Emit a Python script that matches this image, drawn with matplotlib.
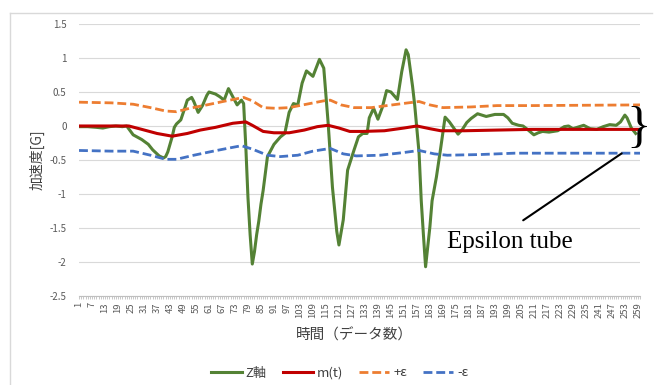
import matplotlib
matplotlib.use('Agg')
import matplotlib.pyplot as plt
from matplotlib.lines import Line2D

plt.rcParams['font.family'] = ['Noto Sans CJK JP', 'DejaVu Sans']
plt.rcParams['axes.unicode_minus'] = False

# Z軸 (sample index, acceleration)
z_idx = [1, 5, 9, 12, 15, 18, 21, 23, 26, 30, 33, 35, 38, 40, 41, 42, 44, 45, 46, 48,
         50, 51, 53, 54, 56, 58, 60, 61, 64, 66, 68, 70, 72, 74, 76, 77, 78, 79, 80, 81,
         82, 83, 84, 85, 86, 88, 91, 94, 96, 98, 100, 102, 104, 106, 109, 112, 114, 116, 118, 120,
         121, 123, 125, 128, 130, 132, 134, 135, 137, 139, 141, 143, 145, 148, 150, 152, 153, 155, 156, 158,
         159, 160, 161, 163, 164, 166, 168, 170, 172, 174, 176, 178, 180, 182, 185, 189, 193, 197, 199, 201,
         204, 206, 208, 211, 213, 215, 218, 222, 225, 227, 229, 232, 234, 237, 240, 243, 246, 249, 251, 253,
         254, 256, 258]
z_val = [-0.01, -0.01, -0.02, -0.03, -0.01, 0.0, -0.01, 0.0, -0.13, -0.2, -0.27, -0.35, -0.44, -0.47, -0.45, -0.38, -0.16, -0.02, 0.03, 0.09,
         0.28, 0.38, 0.42, 0.36, 0.2, 0.3, 0.45, 0.5, 0.47, 0.43, 0.38, 0.55, 0.43, 0.31, 0.38, 0.33, -0.3, -1.05, -1.6, -2.03,
         -1.85, -1.6, -1.4, -1.15, -0.95, -0.45, -0.27, -0.16, -0.11, 0.2, 0.33, 0.31, 0.63, 0.81, 0.73, 0.98, 0.85, 0.05, -0.9, -1.55,
         -1.75, -1.38, -0.65, -0.35, -0.16, -0.11, -0.11, 0.12, 0.26, 0.1, 0.27, 0.52, 0.5, 0.39, 0.8, 1.12, 1.05, 0.58, 0.3, -0.4,
         -1.1, -1.6, -2.07, -1.48, -1.1, -0.75, -0.32, 0.13, 0.06, -0.03, -0.12, -0.05, 0.05, 0.11, 0.18, 0.14, 0.17, 0.17, 0.12, 0.04,
         0.01, 0.0, -0.05, -0.13, -0.1, -0.08, -0.09, -0.07, -0.01, 0.0, -0.04, -0.01, 0.01, -0.04, -0.05, -0.01, 0.02, 0.01, 0.06, 0.16,
         0.12, -0.03, -0.11]

# m(t)
m_idx = [1, 24, 30, 37, 44, 51, 57, 64, 72, 78, 81, 86, 91, 98, 105, 111, 116, 121, 126, 132,
         142, 151, 157, 163, 168, 179, 194, 210, 240, 260]
m_val = [0.0, 0.0, -0.05, -0.11, -0.15, -0.11, -0.06, -0.02, 0.04, 0.06, 0.01, -0.08, -0.1, -0.1, -0.06, -0.01, 0.01, -0.03, -0.08, -0.08,
         -0.07, -0.03, 0.0, -0.04, -0.07, -0.07, -0.06, -0.05, -0.05, -0.05]

# +ε
up_idx = [1, 16, 26, 34, 41, 46, 52, 60, 69, 77, 81, 86, 92, 98, 106, 114, 117, 122, 128, 136,
          148, 158, 163, 169, 182, 194, 210, 260]
up_val = [0.35, 0.34, 0.32, 0.27, 0.22, 0.21, 0.26, 0.31, 0.37, 0.42, 0.37, 0.27, 0.26, 0.27, 0.32, 0.37, 0.38, 0.31, 0.27, 0.27,
          0.32, 0.36, 0.31, 0.27, 0.28, 0.3, 0.3, 0.31]

# -ε
lo_idx = [1, 16, 26, 34, 41, 46, 54, 63, 71, 76, 81, 88, 94, 102, 109, 117, 123, 129, 140, 151,
          158, 165, 171, 186, 202, 260]
lo_val = [-0.36, -0.37, -0.37, -0.43, -0.49, -0.49, -0.43, -0.37, -0.32, -0.29, -0.34, -0.43, -0.45, -0.43, -0.37, -0.33, -0.41, -0.44, -0.43, -0.39,
          -0.36, -0.41, -0.43, -0.42, -0.4, -0.4]

y_ticks = [-2.5, -2, -1.5, -1, -0.5, 0, 0.5, 1, 1.5]
y_labels = ['-2.5', '-2', '-1.5', '-1', '-0.5', '0', '0.5', '1', '1.5']
x_ticks = list(range(1, 260, 6))
x_labels = [str(t) for t in x_ticks]

fig = plt.figure(figsize=(6.59, 3.85), dpi=100)
ax = fig.add_axes([0.1199, 0.2312, 0.8513, 0.7065])

dash = (0, (3.2, 1.4))
ax.plot(z_idx, z_val, color='#548235', lw=2.2, label='Z軸', solid_joinstyle='round')
ax.plot(m_idx, m_val, color='#C00000', lw=2.2, label='m(t)')
ax.plot(up_idx, up_val, color='#ED7D31', lw=2, ls=dash, label='+ε')
ax.plot(lo_idx, lo_val, color='#4472C4', lw=2, ls=dash, label='-ε')

ax.set_xlim(1, 260)
ax.set_ylim(-2.5, 1.5)
ax.set_yticks(y_ticks)
ax.set_yticklabels(y_labels)
ax.set_xticks(x_ticks)
ax.set_xticklabels(x_labels)
ax.set_xticks(range(1, 261), minor=True)

for s in ['top', 'right', 'left']:
    ax.spines[s].set_visible(False)
ax.spines['bottom'].set_color('#bfbfbf')
ax.tick_params(axis='y', length=0, labelsize=7, labelcolor='#595959', pad=9)
ax.tick_params(axis='x', which='both', length=2.5, color='#bfbfbf', width=0.6)
ax.tick_params(axis='x', labelsize=6.8, labelrotation=90, labelcolor='#595959', pad=2)
ax.grid(axis='y', color='#d9d9d9', lw=0.8)
ax.set_axisbelow(True)

ax.set_ylabel('加速度[G]', fontsize=10, color='#404040')
ax.yaxis.set_label_coords(-0.061, 0.5)
ax.set_xlabel('時間（データ数）', fontsize=10.5, color='#404040')
ax.xaxis.set_label_coords(0.49, -0.118)

leg = ax.legend(loc='center', bbox_to_anchor=(340 / 659, 12 / 385), bbox_transform=fig.transFigure,
                ncol=4, frameon=False, fontsize=9.5, handlelength=2.3, handletextpad=0.3, columnspacing=1.2)
for t in leg.get_texts():
    t.set_color('#404040')

# epsilon tube annotation
ax.text(259.3, -0.04, '}', family='Liberation Serif', fontsize=37,
        ha='center', va='center', color='black', clip_on=False)
ax.annotate('', xy=(252.6, -0.38), xytext=(205, -1.41),
            arrowprops=dict(arrowstyle='-', lw=1.5, color='black'))
ax.text(171, -1.71, 'Epsilon tube', family='Liberation Serif', fontsize=18, ha='left', va='center', color='black')

# outer chart frame (partly cropped)
fig.add_artist(Line2D([10 / 659, 10 / 659], [0, 1 - 12.7 / 385], color='#d9d9d9', lw=1))
fig.add_artist(Line2D([10 / 659, 652 / 659], [1 - 12.7 / 385, 1 - 12.7 / 385], color='#d9d9d9', lw=1))

fig.savefig('out.png', dpi=100)
